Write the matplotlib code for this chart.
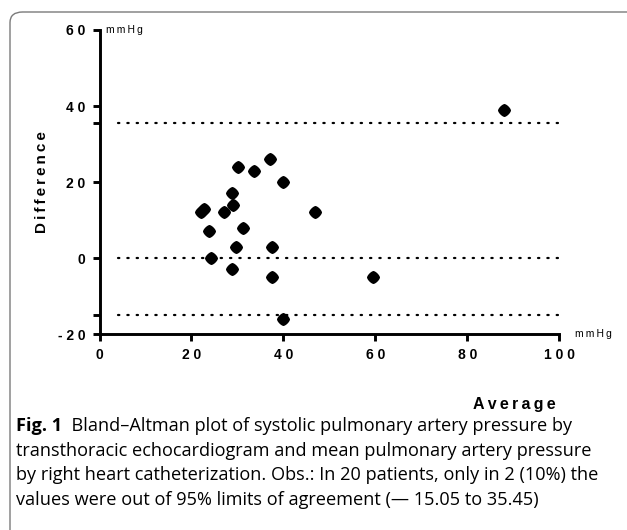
import numpy as np
import matplotlib.pyplot as plt
from matplotlib.patches import FancyBboxPatch

# Bland-Altman data
average = [22.1, 22.7, 23.7, 24.2, 27.1, 28.7, 29.1, 28.7, 29.6, 30.2,
           31.1, 33.5, 37.1, 37.6, 37.6, 40.0, 40.0, 46.9, 59.4, 88.0]
difference = [12, 13, 7, 0, 12, 17, 14, -3, 3, 24,
              8, 23, 26, 3, -5, 20, -16, 12, -5, 39]
lower_loa = -15.05
upper_loa = 35.45

xticks = [0, 20, 40, 60, 80, 100]
yticks = [-20, 0, 20, 40, 60]

TS = '\u2009'  # thin space for the letter-spaced Prism look


def spaced(s, sep=TS):
    return sep.join(s)


plt.rcParams['font.family'] = ['Liberation Sans', 'DejaVu Sans']

fig = plt.figure(figsize=(6.27, 5.30), dpi=100)
ax = fig.add_axes([0.1587, 0.3698, 0.7336, 0.5736])

# outer frame of the figure panel
frame = FancyBboxPatch((10 / 627, -0.2), 1.2, 1.2 - 12 / 530,
                       boxstyle='round,pad=0,rounding_size=0.02',
                       transform=fig.transFigure, facecolor='none',
                       edgecolor='#7a7a7a', linewidth=1.0, clip_on=False)
fig.patches.append(frame)

# rounded diamond marker (Prism style)
th = np.linspace(0, 2 * np.pi, 60)
p = 1.45
mx = np.sign(np.cos(th)) * np.abs(np.cos(th)) ** (2 / p)
my = np.sign(np.sin(th)) * np.abs(np.sin(th)) ** (2 / p)
rdiamond = list(zip(mx, my))

ax.scatter(average, difference, marker=rdiamond, s=88, color='black',
           zorder=3, linewidths=0)

for yv in [upper_loa, 0, lower_loa]:
    ax.plot([4, 100], [yv, yv], color='black', lw=1.6,
            dashes=(0.6, 3.6), dash_capstyle='round')

ax.set_xlim(0, 100)
ax.set_ylim(-20, 60)
for s in ['top', 'right']:
    ax.spines[s].set_visible(False)
for s in ['left', 'bottom']:
    ax.spines[s].set_linewidth(2.1)

ax.set_xticks(xticks)
ax.set_xticklabels([spaced(str(v), ' ') for v in xticks], fontsize=10,
                   fontweight='bold')
ax.set_yticks(yticks + [lower_loa, upper_loa])
ax.set_yticklabels([spaced(str(v), ' ') for v in yticks] + ['', ''],
                   fontsize=10, fontweight='bold')
ax.tick_params(axis='both', direction='out', length=5, width=2.1, pad=5)

ax.text(1.4, 60, spaced('mmHg'), fontsize=7.5, va='center', ha='left')
ax.text(103.3, -20, spaced('mmHg'), fontsize=7.5, va='center', ha='left',
        clip_on=False)

fig.text(42 / 627, 1 - 182 / 530, spaced('Difference'), rotation=90,
         fontsize=11, fontweight='bold', ha='center', va='center')
fig.text(556 / 627, 1 - 405 / 530, spaced('Average'), fontsize=11.5,
         fontweight='bold', ha='right', va='center')

# caption
cap_font = ['Open Sans', 'DejaVu Sans']
cap_size = 13.1
lines = ['transthoracic echocardiogram and mean pulmonary artery pressure',
         'by right heart catheterization. Obs.: In 20 patients, only in 2 (10%) the',
         'values were out of 95% limits of agreement (\u2014 15.05 to 35.45)']
x0 = 16 / 627
y_first = 1 - 431 / 530
step = 24.6 / 530
t = fig.text(x0, y_first, 'Fig. 1', fontsize=cap_size, fontweight='bold',
             family=cap_font, va='baseline', ha='left')
ax.annotate('  Bland\u2013Altman plot of systolic pulmonary artery pressure by',
            xy=(1, 0), xycoords=t, va='bottom', ha='left', fontsize=cap_size,
            family=cap_font, annotation_clip=False)
for i, ln in enumerate(lines):
    fig.text(x0, y_first - (i + 1) * step, ln, fontsize=cap_size,
             family=cap_font, va='baseline', ha='left')

fig.savefig('out.png', dpi=100)
